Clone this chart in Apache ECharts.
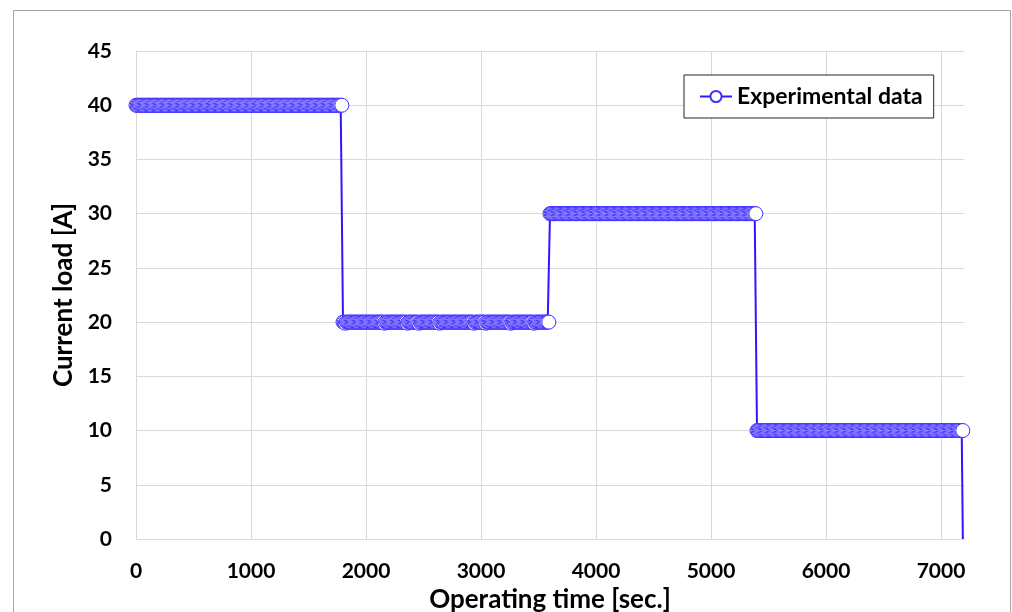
<!DOCTYPE html>
<html>
<head>
<meta charset="utf-8">
<title>Current load profile</title>
<script src="https://cdn.jsdelivr.net/npm/echarts@6/dist/echarts.min.js"></script>
<style>
  html, body { margin: 0; padding: 0; background: #ffffff; }
  #chart { width: 1012px; height: 612px; }
</style>
</head>
<body>
<div id="chart"></div>
<script>
// Logged current load, one reading every 10 s, grouped by load step.
const samplePeriod = 10; // s
const stepStarts = [0, 1800, 3600, 5400];
const step1Load = [
  40,40,40,40,40,40,40,40,40,40, 40,40,40,40,40,40,40,40,40,40,
  40,40,40,40,40,40,40,40,40,40, 40,40,40,40,40,40,40,40,40,40,
  40,40,40,40,40,40,40,40,40,40, 40,40,40,40,40,40,40,40,40,40,
  40,40,40,40,40,40,40,40,40,40, 40,40,40,40,40,40,40,40,40,40,
  40,40,40,40,40,40,40,40,40,40, 40,40,40,40,40,40,40,40,40,40,
  40,40,40,40,40,40,40,40,40,40, 40,40,40,40,40,40,40,40,40,40,
  40,40,40,40,40,40,40,40,40,40, 40,40,40,40,40,40,40,40,40,40,
  40,40,40,40,40,40,40,40,40,40, 40,40,40,40,40,40,40,40,40,40,
  40,40,40,40,40,40,40,40,40,40, 40,40,40,40,40,40,40,40,40,40
];
const step2Load = [
  20,20,19.9,20,20,20,20,20,20,20, 20,20,20,20,20,20,20,20,20,20,
  20,20,20,20,20,20,20,20,20,20, 20,20,20,20,20,20,19.9,20,20,20,
  20,20,20,20,20,20,20,20,20,20, 20,20,20,20,20,20,19.9,20,20,20,
  20,20,20,20,20,20,19.9,20,20,20, 20,20,20,20,20,20,20,20,20,20,
  20,20,20,20,19.9,20,20,20,20,20, 20,20,20,20,20,20,20,20,20,20,
  20,20,20,20,20,20,20,20,20,20, 20,20,20,20,19.9,20,20,20,20,20,
  20,20,20,20,19.9,20,20,20,20,20, 20,20,20,20,20,20,20,20,20,20,
  20,20,20,20,20,20,19.9,20,20,20, 20,20,20,20,20,20,20,20,20,20,
  20,20,20,20,20,20,19.9,20,20,20, 20,20,20,20,20,20,20,20,20,20
];
const step3Load = [
  30,30,30,30,30,30,30,30,30,30, 30,30,30,30,30,30,30,30,30,30,
  30,30,30,30,30,30,30,30,30,30, 30,30,30,30,30,30,30,30,30,30,
  30,30,30,30,30,30,30,30,30,30, 30,30,30,30,30,30,30,30,30,30,
  30,30,30,30,30,30,30,30,30,30, 30,30,30,30,30,30,30,30,30,30,
  30,30,30,30,30,30,30,30,30,30, 30,30,30,30,30,30,30,30,30,30,
  30,30,30,30,30,30,30,30,30,30, 30,30,30,30,30,30,30,30,30,30,
  30,30,30,30,30,30,30,30,30,30, 30,30,30,30,30,30,30,30,30,30,
  30,30,30,30,30,30,30,30,30,30, 30,30,30,30,30,30,30,30,30,30,
  30,30,30,30,30,30,30,30,30,30, 30,30,30,30,30,30,30,30,30,30
];
const step4Load = [
  10,10,10,10,10,10,10,10,10,10, 10,10,10,10,10,10,10,10,10,10,
  10,10,10,10,10,10,10,10,10,10, 10,10,10,10,10,10,10,10,10,10,
  10,10,10,10,10,10,10,10,10,10, 10,10,10,10,10,10,10,10,10,10,
  10,10,10,10,10,10,10,10,10,10, 10,10,10,10,10,10,10,10,10,10,
  10,10,10,10,10,10,10,10,10,10, 10,10,10,10,10,10,10,10,10,10,
  10,10,10,10,10,10,10,10,10,10, 10,10,10,10,10,10,10,10,10,10,
  10,10,10,10,10,10,10,10,10,10, 10,10,10,10,10,10,10,10,10,10,
  10,10,10,10,10,10,10,10,10,10, 10,10,10,10,10,10,10,10,10,10,
  10,10,10,10,10,10,10,10,10,10, 10,10,10,10,10,10,10,10,10,10
];
// load switched off at the end of the run
const shutdownTime = 7190;
const shutdownLoad = 0;

const xTicks = [0, 1000, 2000, 3000, 4000, 5000, 6000, 7000];
const yTicks = [0, 5, 10, 15, 20, 25, 30, 35, 40, 45];

const seriesName = 'Experimental data';
const xTitle = 'Operating time [sec.]';
const yTitle = 'Current load [A]';

// build [time, load] pairs
const points = [];
[step1Load, step2Load, step3Load, step4Load].forEach(function (arr, k) {
  arr.forEach(function (v, i) {
    points.push([stepStarts[k] + i * samplePeriod, v]);
  });
});
points.push({ value: [shutdownTime, shutdownLoad], symbol: 'none' });

const FONT = 'Lato';
const BLUE = '#2f17ff';
const MARKER_EDGE = '#4030ff';
const GRID = '#d9d9d9';

const chart = echarts.init(document.getElementById('chart'), null, { renderer: 'canvas' });

// vertical split lines: visible at the labelled ticks, hidden at the right edge
const xSplitColors = xTicks.map(function () { return GRID; }).concat(['rgba(0,0,0,0)']);

chart.setOption({
  animation: false,
  backgroundColor: '#ffffff',
  graphic: [{
    type: 'rect',
    silent: true,
    shape: { x: 13.5, y: 10.5, width: 997, height: 700 },
    style: { fill: 'none', stroke: '#a6a6a6', lineWidth: 1 },
    z: -1
  }],
  grid: { left: 136, right: 48, top: 51, bottom: 73, outerBoundsMode: 'none' },
  legend: {
    data: [seriesName],
    left: 684,
    top: 75,
    orient: 'horizontal',
    backgroundColor: '#ffffff',
    borderColor: '#262626',
    borderWidth: 1,
    borderRadius: 0,
    padding: [10, 11, 10, 15],
    itemWidth: 32,
    itemHeight: 14,
    itemGap: 3,
    textStyle: { fontFamily: FONT, fontWeight: 'bold', fontSize: 23, color: '#000000' }
  },
  xAxis: {
    type: 'value',
    min: 0,
    max: 7200,
    interval: 1000,
    name: xTitle,
    nameLocation: 'middle',
    nameGap: 48,
    nameTextStyle: { fontFamily: FONT, fontWeight: 'bold', fontSize: 26, color: '#000000' },
    axisLine: { show: true, lineStyle: { color: GRID, width: 1 } },
    axisTick: { show: false },
    axisLabel: {
      margin: 22,
      fontFamily: FONT, fontWeight: 'bold', fontSize: 21, color: '#000000',
      formatter: function (v) { return xTicks.indexOf(v) >= 0 ? String(v) : ''; }
    },
    splitLine: { show: true, lineStyle: { color: xSplitColors, width: 1 } }
  },
  yAxis: {
    type: 'value',
    min: 0,
    max: 45,
    interval: 5,
    name: yTitle,
    nameLocation: 'middle',
    nameGap: 53,
    nameTextStyle: { fontFamily: FONT, fontWeight: 'bold', fontSize: 26, color: '#000000' },
    axisLine: { show: true, lineStyle: { color: GRID, width: 1 } },
    axisTick: { show: false },
    axisLabel: {
      margin: 24,
      fontFamily: FONT, fontWeight: 'bold', fontSize: 21, color: '#000000',
      formatter: function (v) { return yTicks.indexOf(v) >= 0 ? String(v) : ''; }
    },
    splitLine: { show: true, lineStyle: { color: GRID, width: 1 } }
  },
  series: [{
    name: seriesName,
    type: 'line',
    data: points,
    clip: false,
    symbol: 'circle',
    symbolSize: 14,
    showAllSymbol: true,
    lineStyle: { color: BLUE, width: 2 },
    itemStyle: { color: '#ffffff', borderColor: MARKER_EDGE, borderWidth: 1 },
    emphasis: { disabled: true }
  }]
});
</script>
</body>
</html>
